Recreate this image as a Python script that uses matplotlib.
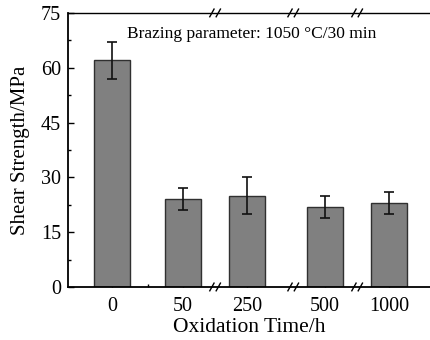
import matplotlib
matplotlib.use('Agg')
import matplotlib.pyplot as plt
import matplotlib.transforms as mtransforms
import numpy as np

# data
times = ['0', '50', '250', '500', '1000']
strength = [62, 24, 25, 22, 23]
errors = [5, 3, 5, 3, 3]

# x positions on the broken axis (spacing is not to scale)
pos = [0, 1.0, 1.9, 3.0, 3.9]
breaks = [1.45, 2.55, 3.45]

plt.rcParams['font.family'] = ['Liberation Serif', 'DejaVu Serif']

fig = plt.figure(figsize=(4.31, 3.40), dpi=100)
ax = fig.add_axes([0.158, 0.156, 0.842, 0.806])

ax.bar(pos, strength, width=0.5, color='#808080', edgecolor='#303030', linewidth=1.0, zorder=2)
ax.errorbar(pos, strength, yerr=errors, fmt='none', ecolor='#111111',
            elinewidth=1.2, capsize=3.5, capthick=1.2, zorder=3)

ax.set_xlim(-0.62, 4.49)
ax.set_ylim(0, 75)
ax.set_yticks(np.arange(0, 76, 15))
ax.set_yticks(np.arange(7.5, 75, 15), minor=True)
ax.set_xticks(pos)
ax.set_xticklabels(times)
ax.set_xticks([0.5], minor=True)

ax.tick_params(axis='both', which='major', direction='in', labelsize=14.5, length=4, width=1)
ax.tick_params(axis='both', which='minor', direction='in', length=2, width=1)
ax.tick_params(axis='y', pad=5)
ax.tick_params(axis='x', pad=7)

ax.spines['right'].set_visible(False)
for s in ['left', 'bottom']:
    ax.spines[s].set_linewidth(1.3)
ax.spines['top'].set_linewidth(1.0)

ax.set_xlabel('Oxidation Time/h', fontsize=15.5, labelpad=2)
ax.set_ylabel('Shear Strength/MPa', fontsize=15, labelpad=8)

ax.text(0.507, 0.923, 'Brazing parameter: 1050 \u00b0C/30 min', transform=ax.transAxes,
        ha='center', va='center', fontsize=12.5)

# break marks on top and bottom axis lines
trans = mtransforms.blended_transform_factory(ax.transData, ax.transAxes)
dx = 0.03
dy = 0.014
for b in breaks:
    for yb in (0, 1):
        for off in (-0.045, 0.045):
            ax.plot([b + off - dx, b + off + dx], [yb - dy, yb + dy], color='black',
                    lw=1.0, transform=trans, clip_on=False, zorder=5)

fig.savefig('out.png', dpi=100)
